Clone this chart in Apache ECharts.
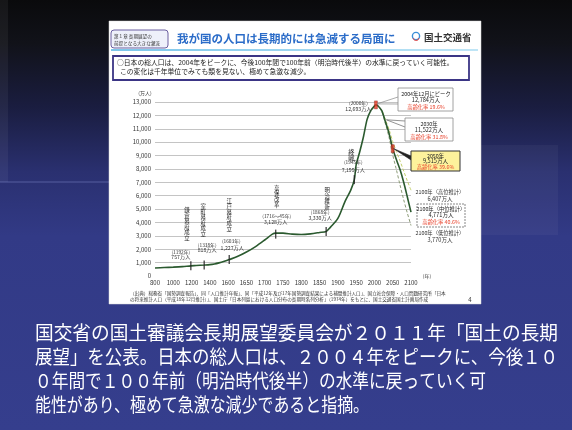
<!DOCTYPE html>
<html><head><meta charset="utf-8">
<script src="https://cdn.jsdelivr.net/npm/echarts@6/dist/echarts.min.js"></script>
<style>html,body{margin:0;padding:0;background:#000}#c{width:572px;height:430px}</style>
</head><body><div id="c"></div>
<script>
// ---- data ----
const xTickYears = [800,1000,1200,1400,1600,1650,1700,1750,1800,1850,1900,1950,2000,2050,2100];
const mainYears = [800,900,1000,1100,1192,1250,1338,1400,1450,1500,1550,1603,1625,1650,1675,1700,1721,1730,1750,1775,1800,1825,1850,1868,1880,1900,1920,1935,1945,1950,1960,1970,1980,1990,2000,2004,2010,2020,2030,2040,2050,2060,2070,2080,2090,2100];
const mainPop   = [600,630,660,700,757,780,818,850,900,980,1080,1227,1450,1790,2200,2690,3128,3200,3200,3130,3100,3150,3250,3330,3650,4300,5600,6400,7199,8300,9300,10400,11700,12360,12693,12784,12700,12350,11522,10650,9515,8700,7950,7000,5900,4771];
const projYears = [2004,2010,2020,2030,2040,2050,2060,2070,2080,2090,2100];
const highPop   = [12784,12700,12380,11680,10950,10050,9300,8600,7850,7100,6407];
const lowPop    = [12784,12700,12300,11380,10350,9050,7950,6800,5700,4700,3770];
const eventYears = [1192,1338,1603,1730,1868,1945];
const eventPop   = [757,818,1227,3128,3330,7199];
const eventNames = ['鎌倉幕府成立','室町幕府成立','江戸幕府成立','享保改革','明治維新','終戦'];
const eventYearLabels = ['(1192年)','(1338年)','(1603年)','(1716～45年)','(1868年)','(1945年)'];
const eventPopLabels  = ['757万人','818万人','1,227万人','3,128万人','3,330万人','7,199万人'];
const peakYears = [2004,2050];
const peakPop   = [12784,9515];
const y2000 = [2000, 12693];
const y2030 = [2030, 11522];

const FONT = '"Noto Sans CJK JP", sans-serif';

// piecewise-linear year -> tick index (axis is evenly spaced by tick label)
function toX(year){
  for (let i=0;i<xTickYears.length-1;i++){
    const a=xTickYears[i], b=xTickYears[i+1];
    if (year<=b) return i + (year-a)/(b-a);
  }
  return xTickYears.length-1;
}
const pts = (ys, vs) => ys.map((y,i)=>[toX(y), vs[i]]);

const chart = echarts.init(document.getElementById('c'), null, {renderer:'canvas'});

const splitColors = ['rgba(0,0,0,0)'].concat(new Array(13).fill('#c4c4c4'));

chart.setOption({
  animation:false,
  grid:{left:155, right:161, top:102, bottom:154},
  xAxis:{type:'value', min:0, max:xTickYears.length-1, interval:1,
    axisLine:{show:false}, axisTick:{show:false}, splitLine:{show:false},
    axisLabel:{fontSize:6, color:'#333', fontFamily:FONT, margin:4,
      formatter:v=>xTickYears[Math.round(v)]}},
  yAxis:{type:'value', min:0, max:13000, interval:1000,
    axisLine:{show:false}, axisTick:{show:false},
    splitLine:{lineStyle:{color:splitColors, width:1}},
    axisLabel:{fontSize:6, color:'#333', fontFamily:FONT, margin:4,
      formatter:v=>v.toLocaleString('en-US')}},
  series:[
    {type:'line', data:pts(projYears, highPop), smooth:0.3, symbol:'none', z:3,
     lineStyle:{color:'#c3d06a', width:1, type:[3,2]}},
    {type:'line', data:pts(projYears, lowPop), smooth:0.3, symbol:'none', z:3,
     lineStyle:{color:'#8d9c78', width:1, type:[3,2]}},
    {type:'line', data:pts(mainYears, mainPop), smooth:0.3, symbol:'none', z:4,
     lineStyle:{color:'#2b5a2f', width:1.6}},
    {type:'scatter', data:pts(eventYears, eventPop), symbol:'rect', symbolSize:[1.4,9], z:5,
     itemStyle:{color:'#222'}},
    {type:'scatter', data:pts(peakYears, peakPop), symbol:'rect', symbolSize:[3,8], z:6,
     itemStyle:{color:'#e53a24', borderColor:'#7a1a10', borderWidth:0.4}}
  ]
});

const P = (year, v) => chart.convertToPixel({gridIndex:0}, [toX(year), v]);

function T(x,y,text,size,color,align,weight,extra){
  return Object.assign({type:'text', z:100, style:{x:x, y:y, text:text,
    font:(weight||'normal')+' '+size+'px '+FONT, fill:color||'#222',
    align:align||'center', verticalAlign:'middle'}}, extra||{});
}

const els = [];
// background
els.push({type:'rect', z:-100, shape:{x:0,y:0,width:572,height:430}, style:{fill:new echarts.graphic.LinearGradient(0,0,0,1,[
  {offset:0,color:'#0a0a0c'},{offset:0.1,color:'#111219'},{offset:0.25,color:'#1a1d40'},
  {offset:0.4,color:'#2a3070'},{offset:0.55,color:'#323a86'},{offset:1,color:'#353e8d'}])}});
els.push({type:'rect', z:-99, shape:{x:0,y:0,width:8,height:182}, style:{fill:'rgba(255,255,255,0.05)'}});
els.push({type:'rect', z:-99, shape:{x:481,y:145,width:77,height:90}, style:{fill:'rgba(255,255,255,0.04)'}});
els.push({type:'line', z:-99, shape:{x1:0,y1:182,x2:109,y2:182}, style:{stroke:'rgba(170,180,240,0.35)', lineWidth:1}});
// white panel
els.push({type:'rect', z:-50, shape:{x:109,y:21,width:372,height:283}, style:{fill:'#ffffff', stroke:'#d8d8d8', lineWidth:0.5}});
// header
els.push({type:'rect', z:10, shape:{x:111,y:30,width:57,height:18,r:3}, style:{fill:'#eef0fa', stroke:'#6b5fa0', lineWidth:1}});
els.push(T(114,36,'第１章 長期展望の',4.6,'#333','left'));
els.push(T(114,43,'前提となる大きな潮流',4.6,'#333','left'));
els.push(T(177,39,'我が国の人口は長期的には急減する局面に',11.5,'#2b6cc8','left','bold'));
els.push({type:'circle', z:10, shape:{cx:416,cy:36,r:3.6}, style:{fill:'none', stroke:'#3a8fd8', lineWidth:1.4}});
els.push({type:'arc', z:11, shape:{cx:416,cy:37.5,r:3,startAngle:0.2,endAngle:2.9}, style:{fill:'none', stroke:'#e04040', lineWidth:1}});
els.push(T(424,37,'国土交通省',9.5,'#333','left','bold'));
els.push({type:'rect', z:10, shape:{x:111,y:49,width:367,height:2}, style:{fill:new echarts.graphic.LinearGradient(0,0,1,0,[{offset:0,color:'#7cc6ea'},{offset:1,color:'#bfe5f6'}])}});
// summary box
els.push({type:'rect', z:10, shape:{x:113,y:56,width:356,height:24}, style:{fill:'#fff', stroke:'#3b3585', lineWidth:1.8}});
els.push(T(117,62.5,'○日本の総人口は、2004年をピークに、今後100年間で100年前（明治時代後半）の水準に戻っていく可能性。',6.8,'#222','left'));
els.push(T(120,71,'この変化は千年単位でみても類を見ない、極めて急激な減少。',6.8,'#222','left'));
// axis unit labels
els.push(T(145,93,'(万人)',5,'#333'));
els.push(T(427,276,'(年)',5,'#333'));
// footer
els.push(T(130,293,'（出典）総務省「国勢調査報告」、同「人口推計年報」、同「平成12年及び17年国勢調査結果による補間推計人口」、国立社会保障・人口問題研究所「日本',4.6,'#333','left'));
els.push(T(130,299,'の将来推計人口（平成18年12月推計）」、国土庁「日本列島における人口分布の長期時系列分析」（1974年）をもとに、国土交通省国土計画局作成',4.6,'#333','left'));
els.push(T(470,300,'4',6,'#333'));

// event annotations (offsets relative to the mark)
const nameOff = [[-4,-42],[-1,-45],[0,-45],[1,-38],[1,-33],[-3,-25]];
const yrOff   = [[-10,-14],[3,-20],[2,-18],[1,-18],[-6,-19],[-1,-17]];
const popOff  = [[-10,-9],[3,-15],[3,-12],[0,-12],[-6,-13],[-1,-10]];
eventYears.forEach((y,i)=>{
  const p = P(y, eventPop[i]);
  const fs = i===5 ? 6.2 : 5.4;
  els.push({type:'text', z:100, style:{x:p[0]+nameOff[i][0], y:p[1]+nameOff[i][1], text:eventNames[i].split('').join('\n'),
    font:'normal '+fs+'px '+FONT, fill:'#222', align:'center', verticalAlign:'middle', lineHeight:fs+0.2}});
  els.push(T(p[0]+yrOff[i][0], p[1]+yrOff[i][1], eventYearLabels[i], 4.8, '#333'));
  els.push(T(p[0]+popOff[i][0], p[1]+popOff[i][1], eventPopLabels[i], 5.2, '#333'));
});
const p2000 = P(y2000[0], y2000[1]);
els.push(T(p2000[0]-16, p2000[1]-3, '(2000年)', 4.8, '#333'));
els.push(T(p2000[0]-16, p2000[1]+2.5, '12,693万人', 5.2, '#333'));

// callouts
const pk = P(peakYears[0], peakPop[0]);
els.push({type:'polyline', z:90, shape:{points:[[398,97],[pk[0]+1,pk[1]-1],[398,104]]}, style:{stroke:'#888', fill:'none', lineWidth:0.7}});
els.push({type:'rect', z:95, shape:{x:398,y:88,width:55,height:23}, style:{fill:'#fff', stroke:'#8a8a8a', lineWidth:0.8}});
els.push(T(426,93.5,'2004年12月にピーク',5.3,'#222'));
els.push(T(426,100,'12,784万人',5.6,'#222'));
els.push(T(426,106.5,'高齢化率 19.6%',5.3,'#e8402a'));

const p30 = P(y2030[0], y2030[1]);
els.push({type:'polyline', z:90, shape:{points:[[405,121],[p30[0]+1,p30[1]-2],[405,127]]}, style:{stroke:'#666', fill:'none', lineWidth:0.7}});
els.push({type:'rect', z:95, shape:{x:405,y:118,width:48,height:23}, style:{fill:'#fff', stroke:'#8a8a8a', lineWidth:0.8}});
els.push(T(429,123.5,'2030年',5.3,'#222'));
els.push(T(429,130,'11,522万人',5.6,'#222'));
els.push(T(429,137,'高齢化率 31.8%',5.3,'#e8402a'));

const p50 = P(peakYears[1], peakPop[1]);
els.push({type:'polygon', z:90, shape:{points:[[p50[0]+1,p50[1]],[411,156],[411,160]]}, style:{fill:'#222', stroke:'#222', lineWidth:0.6}});
els.push({type:'rect', z:95, shape:{x:411,y:151,width:49,height:20}, style:{fill:'#fdf29c', stroke:'#333', lineWidth:1}});
els.push(T(435.5,155.5,'2050年',5.3,'#222'));
els.push(T(435.5,161,'9,515万人',5.6,'#222'));
els.push(T(435.5,166.8,'高齢化率 39.6%',5.3,'#e8402a'));

els.push(T(440,192,'2100年（高位推計）',5.3,'#333'));
els.push(T(440,198.5,'6,407万人',5.6,'#333'));
els.push({type:'rect', z:95, shape:{x:417,y:204,width:48,height:23}, style:{fill:'#fff', stroke:'#555', lineWidth:0.7, lineDash:[2,1]}});
els.push(T(441,209,'2100年（中位推計）',5.3,'#222'));
els.push(T(441,215,'4,771万人',5.6,'#222'));
els.push(T(441,221.5,'高齢化率 40.6%',5.3,'#e8402a'));
els.push(T(440,233,'2100年（低位推計）',5.3,'#333'));
els.push(T(440,239.5,'3,770万人',5.6,'#333'));

// bottom caption (4 lines), each fitted to its width in the slide
const captions = [
  '国交省の国土審議会長期展望委員会が２０１１年「国土の長期',
  '展望」を公表。日本の総人口は、２００４年をピークに、今後１０',
  '０年間で１００年前（明治時代後半）の水準に戻っていく可能',
  '能性があり、極めて急激な減少であると指摘。'
];
captions[2] = '０年間で１００年前（明治時代後半）の水準に戻っていく可';
const capRight = [558,558,486,369];
const capY = [333,357,381,405];
const ctx = document.createElement('canvas').getContext('2d');
const capFont = 'normal 19px ' + FONT;
ctx.font = capFont;
captions.forEach((t,i)=>{
  const w = ctx.measureText(t).width;
  const s = (capRight[i]-35)/w;
  els.push({type:'text', z:100, x:35, y:capY[i], scaleX:s, scaleY:1,
    style:{x:0, y:0, text:t, font:capFont, fill:'#ffffff', align:'left', verticalAlign:'middle'}});
});

chart.setOption({graphic:{elements:els}});
</script>
</body></html>
